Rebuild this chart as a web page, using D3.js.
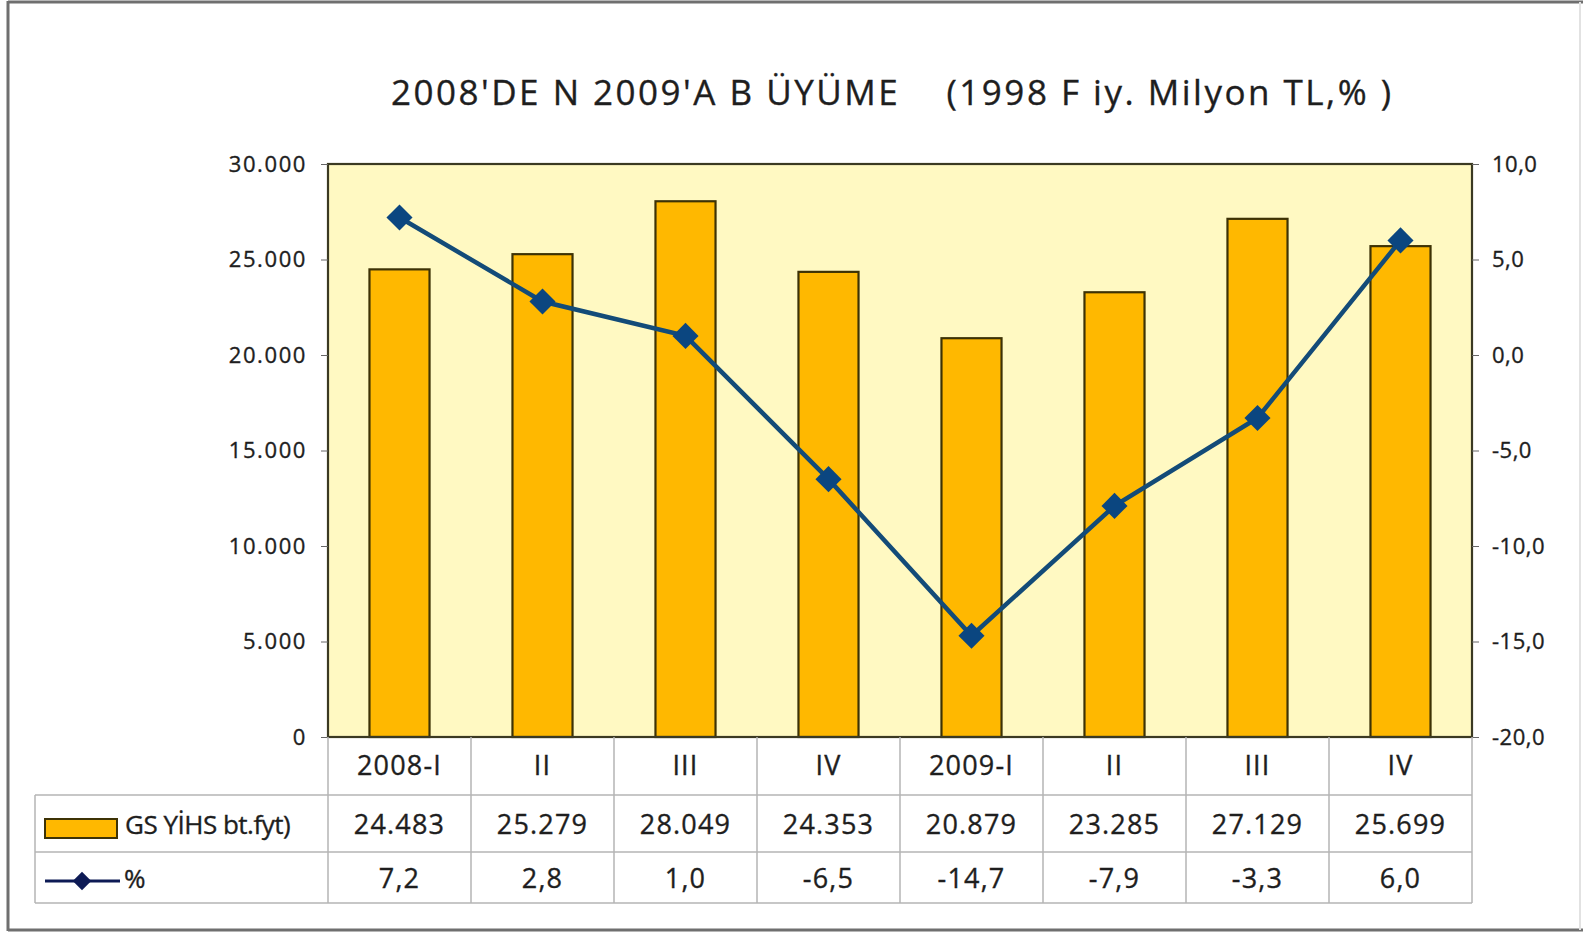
<!DOCTYPE html>
<html>
<head>
<meta charset="utf-8">
<script src="https://cdn.jsdelivr.net/npm/d3@7"></script>
<style>
  html, body { margin: 0; padding: 0; background: #fff; }
  svg { display: block; }
  text { font-family: "Open Sans", "Noto Sans", sans-serif; fill: #1e1e1e; stroke: #1e1e1e; stroke-width: 0.35px; }
</style>
</head>
<body>
<svg id="chart" width="1583" height="932"></svg>
<script>
// ---- data ----
const categories = ["2008-I", "II", "III", "IV", "2009-I", "II", "III", "IV"];
const gdpValues = [24483, 25279, 28049, 24353, 20879, 23285, 27129, 25699];
const growthValues = [7.2, 2.8, 1.0, -6.5, -14.7, -7.9, -3.3, 6.0];
const leftTicks = [0, 5000, 10000, 15000, 20000, 25000, 30000];
const rightTicks = [-20, -15, -10, -5, 0, 5, 10];
const seriesNames = ["GS YİHS bt.fyt)", "%"];
const titleText = "2008'DE N 2009'A B ÜYÜME    (1998 F iy. Milyon TL,% )";

// ---- layout ----
const svg = d3.select("#chart");
const W = 1583, H = 932;
const plot = { left: 328, right: 1472, top: 164, bottom: 737 };
const rowBottoms = [795, 852, 903];
const legendLeft = 35;

const loc = d3.formatLocale({ decimal: ",", thousands: ".", grouping: [3], currency: ["", ""], minus: "-" });
const fmtInt = loc.format(",.0f");
const fmtPct = loc.format(".1f");

// outer frame
svg.append("rect").attr("x", 0).attr("y", 0).attr("width", W).attr("height", H).attr("fill", "#fff");
svg.append("line").attr("x1", 8).attr("x2", 1583).attr("y1", 2).attr("y2", 2).attr("stroke", "#6f6f6f").attr("stroke-width", 3);
svg.append("line").attr("x1", 8).attr("x2", 8).attr("y1", 1).attr("y2", 931).attr("stroke", "#6f6f6f").attr("stroke-width", 3);
svg.append("line").attr("x1", 8).attr("x2", 1583).attr("y1", 930).attr("y2", 930).attr("stroke", "#6f6f6f").attr("stroke-width", 3);
svg.append("line").attr("x1", 1580).attr("x2", 1580).attr("y1", 2).attr("y2", 930).attr("stroke", "#e2e2e2").attr("stroke-width", 2);

// title
svg.append("text")
  .attr("x", 391).attr("y", 105)
  .attr("textLength", 1000).attr("lengthAdjust", "spacing")
  .attr("xml:space", "preserve")
  .style("white-space", "pre")
  .style("font-size", "35px")
  .text(titleText);

// scales
const x = d3.scaleBand().domain(d3.range(categories.length)).range([plot.left, plot.right])
  .paddingInner(0.58).paddingOuter(0.29);
const cell = d3.scaleBand().domain(d3.range(categories.length)).range([plot.left, plot.right]).padding(0);
const yL = d3.scaleLinear().domain([0, 30000]).range([plot.bottom, plot.top]);
const yR = d3.scaleLinear().domain([-20, 10]).range([plot.bottom, plot.top]);

// plot background
svg.append("rect").attr("x", plot.left).attr("y", plot.top)
  .attr("width", plot.right - plot.left).attr("height", plot.bottom - plot.top)
  .attr("fill", "#FFF9C2");

// bars
svg.append("g").selectAll("rect").data(gdpValues).join("rect")
  .attr("x", (d, i) => x(i)).attr("width", x.bandwidth())
  .attr("y", d => yL(d)).attr("height", d => yL(0) - yL(d))
  .attr("fill", "#FFB800").attr("stroke", "#3d3205").attr("stroke-width", 2.2);

// plot border
svg.append("rect").attr("x", plot.left).attr("y", plot.top)
  .attr("width", plot.right - plot.left).attr("height", plot.bottom - plot.top)
  .attr("fill", "none").attr("stroke", "#3b3a22").attr("stroke-width", 2.2);

// axes
const axL = svg.append("g").attr("transform", `translate(${plot.left},0)`)
  .call(d3.axisLeft(yL).tickValues(leftTicks).tickFormat(fmtInt).tickSize(7).tickPadding(14));
axL.select(".domain").remove();
axL.selectAll("line").attr("stroke", "#666");
axL.selectAll("text").style("font-size", "22px").style("letter-spacing", "1.6px")
  .style("font-family", "'Open Sans', sans-serif");

const axR = svg.append("g").attr("transform", `translate(${plot.right},0)`)
  .call(d3.axisRight(yR).tickValues(rightTicks).tickFormat(fmtPct).tickSize(7).tickPadding(13));
axR.select(".domain").remove();
axR.selectAll("line").attr("stroke", "#666");
axR.selectAll("text").style("font-size", "22px").style("letter-spacing", "0.5px")
  .style("font-family", "'Open Sans', sans-serif");

// line + markers
const cx = i => x(i) + x.bandwidth() / 2;
svg.append("path").datum(growthValues)
  .attr("d", d3.line().x((d, i) => cx(i)).y(d => yR(d)))
  .attr("fill", "none").attr("stroke", "#134b78").attr("stroke-width", 4.5);
svg.append("g").selectAll("path").data(growthValues).join("path")
  .attr("transform", (d, i) => `translate(${cx(i)},${yR(d)}) rotate(45)`)
  .attr("d", d3.symbol().type(d3.symbolSquare).size(340))
  .attr("fill", "#0b4680");

// ---- data table ----
const grid = svg.append("g").attr("stroke", "#b5b5b5").attr("stroke-width", 1.5);
d3.range(categories.length + 1).forEach(i => {
  const xx = i < categories.length ? cell(i) : plot.right;
  grid.append("line").attr("x1", xx).attr("x2", xx).attr("y1", plot.bottom).attr("y2", rowBottoms[2]);
});
grid.append("line").attr("x1", legendLeft).attr("x2", legendLeft).attr("y1", rowBottoms[0]).attr("y2", rowBottoms[2]);
rowBottoms.forEach(yy => {
  grid.append("line").attr("x1", legendLeft).attr("x2", plot.right).attr("y1", yy).attr("y2", yy);
});

const rowCenters = [766, 825, 879];
const tbl = svg.append("g").style("font-size", "27px").style("letter-spacing", "1.2px").attr("text-anchor", "middle");
categories.forEach((c, i) => {
  const mx = cell(i) + cell.bandwidth() / 2;
  tbl.append("text").attr("x", mx).attr("y", rowCenters[0]).attr("dy", "0.35em").text(c);
  tbl.append("text").attr("x", mx).attr("y", rowCenters[1]).attr("dy", "0.35em").text(fmtInt(gdpValues[i]));
  tbl.append("text").attr("x", mx).attr("y", rowCenters[2]).attr("dy", "0.35em").text(fmtPct(growthValues[i]));
});

// legend keys
svg.append("rect").attr("x", 45).attr("y", 819).attr("width", 72).attr("height", 19)
  .attr("fill", "#FFB800").attr("stroke", "#3d3205").attr("stroke-width", 2);
svg.append("text").attr("x", 125).attr("y", rowCenters[1]).attr("dy", "0.35em")
  .style("font-size", "26px").style("letter-spacing", "-0.5px").text(seriesNames[0]);
svg.append("line").attr("x1", 45).attr("x2", 120).attr("y1", 881).attr("y2", 881)
  .attr("stroke", "#0d1a55").attr("stroke-width", 3);
svg.append("path").attr("transform", "translate(82,881) rotate(45)")
  .attr("d", d3.symbol().type(d3.symbolSquare).size(170)).attr("fill", "#0d1a55");
svg.append("text").attr("x", 124).attr("y", rowCenters[2]).attr("dy", "0.35em")
  .style("font-size", "26px").text(seriesNames[1]);
</script>
</body>
</html>
